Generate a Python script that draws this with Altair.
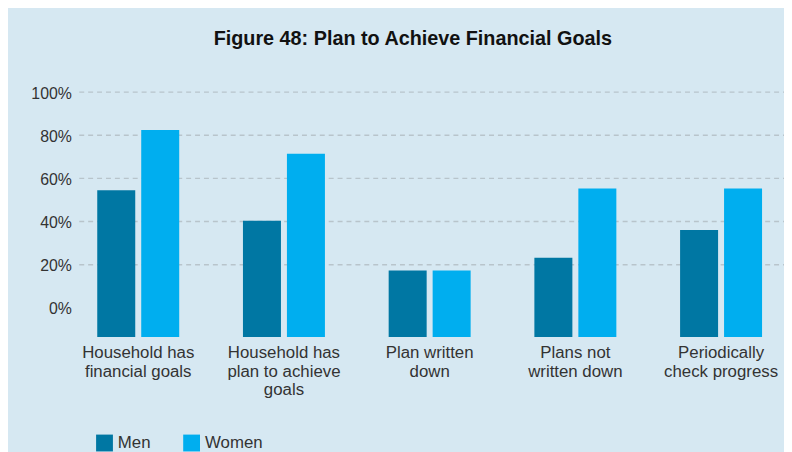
import altair as alt
import pandas as pd

categories = [
    "Household has|financial goals",
    "Household has|plan to achieve|goals",
    "Plan written|down",
    "Plans not|written down",
    "Periodically|check progress",
]
groups = ["Men", "Women"]
men = [54.5, 40.3, 17.3, 23.2, 36.1]
women = [82.4, 71.4, 17.3, 55.3, 55.3]
grid_values = [20, 40, 60, 80, 100]
y_ticks = [0, 20, 40, 60, 80, 100]
base_value = -13.6

rows = []
for c, m, w in zip(categories, men, women):
    rows.append({"category": c, "group": "Men", "value": m, "base": base_value})
    rows.append({"category": c, "group": "Women", "value": w, "base": base_value})
df = pd.DataFrame(rows)
grid_df = pd.DataFrame({"v": grid_values})

W, H = 712, 247.5
RIGHT = 2
FONT = "Liberation Sans"
TXT = "#333333"
y_scale = alt.Scale(domain=[base_value, 100], nice=False, zero=False)
y_axis = alt.Axis(
    values=y_ticks,
    labelExpr="datum.value + '%'",
    title=None,
    grid=False,
    domain=False,
    ticks=False,
    tickSize=0,
    labelPadding=6,
    labelFontSize=16,
    labelColor=TXT,
    labelFont=FONT,
    labelOffset=1,
)

grid = alt.Chart(grid_df).mark_rule(
    color="#b8c4cb", strokeWidth=1.5, strokeDash=[5, 4]
).encode(
    y=alt.Y("v:Q", scale=y_scale, axis=y_axis),
    x=alt.value(2),
    x2=alt.value(W + RIGHT),
)

bars = alt.Chart(df).mark_bar().encode(
    x=alt.X(
        "category:N",
        sort=categories,
        scale=alt.Scale(paddingInner=0.4374, paddingOuter=0.137),
        axis=alt.Axis(
            title=None,
            labelExpr="split(datum.label, '|')",
            labelAngle=0,
            domain=False,
            ticks=False,
            tickSize=0,
            labelPadding=8,
            labelFontSize=17,
            labelLineHeight=18.5,
            labelColor=TXT,
            labelFont=FONT,
            labelBaseline="top",
            labelLimit=300,
        ),
    ),
    xOffset=alt.XOffset(
        "group:N", sort=groups, scale=alt.Scale(paddingInner=0.136, paddingOuter=0)
    ),
    y=alt.Y("value:Q", scale=y_scale, axis=y_axis),
    y2=alt.Y2("base:Q"),
    color=alt.Color(
        "group:N",
        sort=groups,
        scale=alt.Scale(domain=groups, range=["#0077a3", "#00aeef"]),
        legend=alt.Legend(
            orient="none",
            legendX=19,
            legendY=346,
            direction="horizontal",
            title=None,
            symbolType="square",
            symbolSize=289,
            symbolStrokeWidth=0,
            labelFontSize=17,
            labelFont=FONT,
            labelColor=TXT,
            labelOffset=5,
            columnPadding=32,
            padding=0,
        ),
    ),
)

chart = alt.layer(grid, bars).properties(
    width=W,
    height=H,
    title=alt.Title(
        "Figure 48: Plan to Achieve Financial Goals",
        anchor="middle",
        frame="group",
        dx=-17,
        offset=21,
        baseline="alphabetic",
        fontSize=20,
        font=FONT,
        fontWeight="bold",
        color="#111111",
    ),
    background="#d6e8f2",
    padding={"left": 70, "top": 82.7, "right": RIGHT, "bottom": 113.8},
    autosize=alt.AutoSizeParams(type="none"),
).configure_view(stroke=None)

chart.save("out.html", embed_options={"renderer": "svg", "actions": False})
